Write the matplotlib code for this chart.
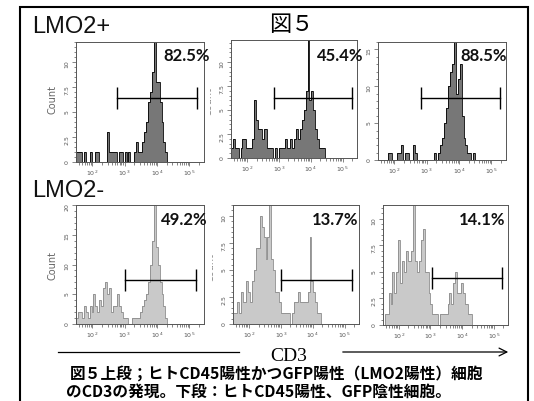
import numpy as np
import matplotlib
matplotlib.use("Agg")
import matplotlib.pyplot as plt
from matplotlib.patches import Rectangle, FancyArrowPatch
from matplotlib.ticker import LogLocator, MultipleLocator, FormatStrFormatter
from matplotlib.transforms import Bbox, TransformedBbox

# ---- data ----
# histogram counts on a log10 grid starting at 10^1.5, 0.06 decade per bin
LOG0, BIN_W = 1.5, 0.06
p1 = [1, 1, 1, 0, 1, 0, 0, 1, 0, 0, 1, 1, 0, 0, 0, 0, 3, 1, 1, 1,
      1, 0, 1, 1, 0, 1, 0, 1, 0, 0, 1, 2, 1, 1, 2, 3, 4, 6, 7, 9,
      14, 8, 8, 6, 4, 2, 1]
p2 = [1, 2, 1, 1, 0, 1, 2, 2, 1, 1, 1, 2, 6, 4, 3, 3, 2, 3, 3, 1,
      1, 1, 0, 1, 0, 1, 1, 1, 2, 1, 1, 2, 1, 2, 3, 2, 3, 4, 5, 7,
      13, 6, 7, 5, 3, 2, 1, 1, 1]
p3 = [0, 0, 0, 0, 0, 1, 1, 0, 0, 0, 1, 1, 2, 0, 1, 1, 0, 0, 2, 1,
      0, 0, 0, 0, 0, 0, 0, 0, 0, 1, 0, 1, 2, 3, 5, 7, 10, 12, 13, 17,
      9, 11, 13, 6, 3, 2, 1, 1, 0, 1]
p4 = [1, 2, 2, 1, 3, 2, 1, 3, 2, 5, 3, 2, 4, 3, 6, 7, 5, 6, 2, 3,
      3, 5, 3, 2, 1, 1, 1, 0, 0, 1, 1, 1, 1, 2, 3, 4, 5, 7, 10, 14,
      22, 13, 10, 7, 5, 3, 1]
p5 = [1, 1, 2, 1, 3, 2, 2, 4, 3, 2, 4, 5, 7, 7, 10, 9, 8, 6, 8, 12,
      6, 5, 3, 3, 2, 1, 1, 1, 1, 1, 0, 1, 2, 2, 3, 2, 2, 2, 2, 3,
      8, 4, 3, 2, 1, 1]
p6 = [0, 1, 1, 3, 2, 5, 3, 5, 8, 4, 6, 5, 7, 6, 6, 7, 12, 6, 5, 6,
      8, 9, 5, 5, 3, 2, 1, 1, 1, 0, 1, 1, 1, 1, 2, 3, 2, 4, 5, 3,
      3, 4, 3, 2, 2, 1, 1]
counts = [p1, p2, p3, p4, p5, p6]

percents = ["82.5%", "45.4%", "88.5%", "49.2%", "13.7%", "14.1%"]
gate_lo = [2.77, 2.85, 2.83, 3.01, 3.00, 3.05]   # log10
gate_hi = [5.23, 5.29, 5.27, 5.20, 5.23, 5.26]   # log10
gate_y = [6.4, 6.25, 8.4, 7.4, 4.07, 4.4]
y_max = [12, 12.3, 16, 20, 11, 11.3]
y_major = [2.5, 2.5, 5, 5, 2.5, 2.5]
y_minor = [0.5, 0.5, 1, 1, 0.5, 0.5]

row_labels = ["LMO2+", "LMO2-"]
title = "図５"
x_label = "CD3"
caption = ["図５上段；ヒトCD45陽性かつGFP陽性（LMO2陽性）細胞",
           "のCD3の発現。下段：ヒトCD45陽性、GFP陰性細胞。"]

# ---- layout (pixels) ----
W, H = 534, 401
boxes = [(76, 42, 204, 162), (231, 40, 357, 158), (378, 42, 506, 160),
         (76, 205, 204, 324), (233, 205, 359, 324), (383, 205, 508, 325)]
pct_pos = [(210, 61), (363, 61), (507, 61), (208, 225), (358, 225), (505, 225)]


def fx(x):
    return x / W


def fy(y):
    return 1 - y / H


fig = plt.figure(figsize=(W / 100, H / 100), dpi=100)
fig.patch.set_facecolor("white")

for k, (l, t, r, b) in enumerate(boxes):
    ax = fig.add_axes([fx(l), fy(b), (r - l) / W, (b - t) / H])
    c = counts[k]
    edges = 10 ** (LOG0 + BIN_W * np.arange(len(c) + 1))
    if k < 3:
        fillc, linec = "#777777", "#000000"
    else:
        fillc, linec = "#c9c9c9", "#8a8a8a"
    ax.stairs(c, edges, fill=True, color=fillc, lw=0)
    ax.stairs(c, edges, color=linec, lw=0.6)
    ax.plot([10 ** gate_lo[k], 10 ** gate_hi[k]], [gate_y[k]] * 2, color="k",
            lw=1.0, marker="|", ms=16, mew=1.0)

    ax.set_xscale("log")
    ax.set_xlim(10 ** 1.5, 10 ** 5.45)
    ax.set_ylim(0, y_max[k])
    ax.xaxis.set_major_locator(LogLocator(base=10, numticks=10))
    ax.xaxis.set_minor_locator(LogLocator(base=10, subs=np.arange(2, 10), numticks=10))
    ax.yaxis.set_major_locator(MultipleLocator(y_major[k]))
    ax.yaxis.set_minor_locator(MultipleLocator(y_minor[k]))
    ax.yaxis.set_major_formatter(FormatStrFormatter("%g"))
    ax.tick_params(which="both", direction="out", color="#555555", width=0.5,
                   labelsize=4.5, labelcolor="#555555", pad=1.5)
    ax.tick_params(which="major", length=3)
    ax.tick_params(which="minor", length=1.8)
    ax.tick_params(axis="y", labelrotation=90)
    for s in ax.spines.values():
        s.set_color("#555555")
        s.set_linewidth(0.7)

    fig.text(fx(pct_pos[k][0]), fy(pct_pos[k][1]), percents[k], ha="right",
             va="baseline", fontsize=12, fontweight="bold", family="Lato",
             color="#111111")

# "Count" axis labels (the middle ones are partly hidden in the original)
fig.text(fx(53), fy(100), "Count", rotation=90, ha="center", va="center",
         fontsize=7, color="#666666")
fig.text(fx(53), fy(265), "Count", rotation=90, ha="center", va="center",
         fontsize=7, color="#666666")
for cx, cy in [(209, 102), (211, 268)]:
    t = fig.text(fx(cx), fy(cy), "Count", rotation=90, ha="center", va="center",
                 fontsize=7, color="#888888")
    t.set_clip_box(TransformedBbox(Bbox([[fx(cx + 1), 0], [1, 1]]), fig.transFigure))
    t.set_clip_on(True)

fig.text(fx(32), fy(33), row_labels[0], fontsize=17, family="Liberation Sans",
         va="baseline", color="#111111")
fig.text(fx(32), fy(197), row_labels[1], fontsize=17, family="Liberation Sans",
         va="baseline", color="#111111")
fig.text(fx(291), fy(31), title, fontsize=16, ha="center", va="baseline",
         family=["Noto Sans CJK JP", "DejaVu Sans"])

# CD3 axis with arrows
fig.add_artist(plt.Line2D([fx(58), fx(239)], [fy(352), fy(352)], color="k", lw=0.9))
fig.add_artist(FancyArrowPatch((fx(340), fy(352)), (fx(511), fy(352)),
                               transform=fig.transFigure, arrowstyle="->",
                               mutation_scale=14, lw=0.9, color="k"))
fig.text(fx(289), fy(361), x_label, fontsize=14, ha="center", va="baseline",
         family="Liberation Serif")

fig.text(fx(70), fy(380), caption[0], fontsize=11.3, va="baseline", fontweight="bold",
         family=["Noto Sans CJK JP", "DejaVu Sans"])
fig.text(fx(66), fy(397), caption[1], fontsize=11.3, va="baseline", fontweight="bold",
         family=["Noto Sans CJK JP", "DejaVu Sans"])

# outer frame (runs off the bottom edge)
fig.add_artist(Rectangle((fx(20), fy(415)), (528 - 20) / W, (415 - 7) / H,
                         transform=fig.transFigure, fill=False, ec="k", lw=1.5))

fig.savefig("out.png", dpi=100)
